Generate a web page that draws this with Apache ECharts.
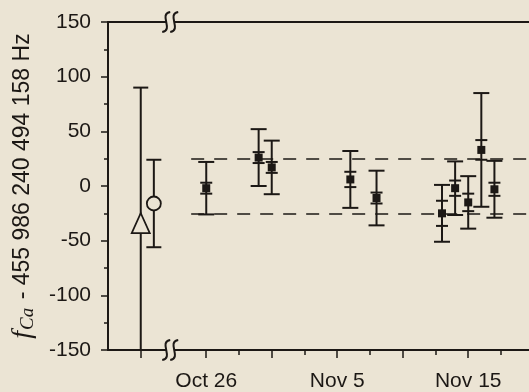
<!DOCTYPE html>
<html><head><meta charset="utf-8">
<script src="https://cdn.jsdelivr.net/npm/echarts@6/dist/echarts.min.js"></script>
<style>html,body{margin:0;padding:0;background:#ebe4d4}#c{width:529px;height:392px}</style>
</head><body><div id="c"></div>
<script>
// ---- data (days relative to Oct 26) ----
const days = [0, 4, 5, 11, 13, 18, 19, 20, 21, 22];
const values = [-2, 26, 17, 6, -11, -25, -2, -15, 33, -3];
const totalErr = [24, 26, 24.5, 26, 25, 26, 24.5, 24, 52, 26];
const statErr = [5, 5, 5, 7, 5, 11.5, 7, 8, 9, 6];
const earlyDays = [-5, -4];
const earlyValues = [-34, -16];
const earlyErr = [124, 40];
const earlySymbols = ['triangle', 'circle'];
const labelDays = [0, 10, 20];
const tickLabels = ['Oct 26', 'Nov 5', 'Nov 15'];
const majorTickDays = [-5, 0, 5, 10, 15, 20];
const minorTickDays = [2.5, 7.5, 12.5, 17.5, 22.5];
const bandLimits = [25, -25];
const breakDays = [-2.75];
const dashStart = -1.15;
const xMin = -7.5, xMax = 24.64;

const ink = '#1c1815';
const bg = '#ebe4d4';

function errRender(capW, innerCapW) {
  return function (params, api) {
    const x = api.value(0), y = api.value(1), e = api.value(2), s = api.value(3);
    const top = api.coord([x, y + e]), bot = api.coord([x, y - e]);
    const st = { stroke: ink, lineWidth: 2 };
    const ch = [
      { type: 'line', shape: { x1: top[0], y1: top[1], x2: bot[0], y2: bot[1] }, style: st },
      { type: 'line', shape: { x1: top[0] - capW / 2, y1: top[1], x2: top[0] + capW / 2, y2: top[1] }, style: st },
      { type: 'line', shape: { x1: bot[0] - capW / 2, y1: bot[1], x2: bot[0] + capW / 2, y2: bot[1] }, style: st }
    ];
    if (s) {
      const it = api.coord([x, y + s]), ib = api.coord([x, y - s]);
      ch.push({ type: 'line', shape: { x1: it[0] - innerCapW / 2, y1: it[1], x2: it[0] + innerCapW / 2, y2: it[1] }, style: st });
      ch.push({ type: 'line', shape: { x1: ib[0] - innerCapW / 2, y1: ib[1], x2: ib[0] + innerCapW / 2, y2: ib[1] }, style: st });
    }
    return { type: 'group', children: ch };
  };
}

function breakRender(params, api) {
  const x = api.value(0);
  const ch = [];
  [150, -150].forEach(function (yv) {
    const c = api.coord([x, yv]);
    ch.push({ type: 'rect', shape: { x: c[0] - 4, y: c[1] - 3, width: 8, height: 6 }, style: { fill: bg } });
    [-4, 4].forEach(function (dx) {
      const cx = c[0] + dx, cy = c[1];
      ch.push({ type: 'bezierCurve', shape: { x1: cx + 4, y1: cy - 10, cpx1: cx - 8, cpy1: cy - 8, cpx2: cx + 8, cpy2: cy + 8, x2: cx - 4, y2: cy + 10 }, style: { stroke: ink, lineWidth: 2, fill: null } });
    });
  });
  return { type: 'group', children: ch };
}

const chart = echarts.init(document.getElementById('c'));
chart.setOption({
  backgroundColor: bg,
  animation: false,
  grid: { left: 108, right: 0, top: 22, bottom: 42, containLabel: false, outerBoundsMode: 'none' },
  xAxis: [
    {
      type: 'value', min: xMin, max: xMax, position: 'bottom',
      axisLine: { show: true, onZero: false, lineStyle: { color: ink, width: 2 } },
      axisTick: { show: true, length: 8, customValues: majorTickDays, lineStyle: { color: ink, width: 1.5 } },
      axisLabel: {
        show: true, customValues: labelDays, margin: 21, color: ink, fontSize: 21, fontFamily: 'Liberation Sans',
        formatter: function (v) { const i = labelDays.indexOf(v); return i >= 0 ? tickLabels[i] : ''; }
      },
      splitLine: { show: false }
    },
    {
      type: 'value', min: xMin, max: xMax, position: 'top',
      axisLine: { show: true, onZero: false, lineStyle: { color: ink, width: 2 } },
      axisTick: { show: false }, axisLabel: { show: false }, splitLine: { show: false }
    },
    {
      type: 'value', min: xMin, max: xMax, position: 'bottom',
      axisLine: { show: false, onZero: false },
      axisTick: { show: true, length: 5, customValues: minorTickDays, lineStyle: { color: ink, width: 1.5 } },
      axisLabel: { show: false }, splitLine: { show: false }
    }
  ],
  yAxis: {
    type: 'value', min: -150, max: 150, interval: 50,
    axisLine: { show: true, onZero: false, lineStyle: { color: ink, width: 2 } },
    axisTick: { show: true, length: 7, lineStyle: { color: ink, width: 1.5 } },
    minorTick: { show: true, splitNumber: 2, length: 4, lineStyle: { color: ink, width: 1.5 } },
    axisLabel: { margin: 17, color: ink, fontSize: 21, fontFamily: 'Liberation Sans' },
    splitLine: { show: false },
    name: '{f|f}{ca|Ca}{t| - 455 986 240 494 158 Hz}',
    nameLocation: 'middle', nameRotate: 90, nameGap: 71,
    nameTextStyle: {
      color: ink,
      rich: {
        f: { fontFamily: 'Liberation Serif', fontStyle: 'italic', fontSize: 28, color: ink },
        ca: { fontFamily: 'Liberation Serif', fontStyle: 'italic', fontSize: 19, color: ink, padding: [10, 2, 0, 1] },
        t: { fontFamily: 'Liberation Sans', fontSize: 23, color: ink }
      }
    }
  },
  series: [
    {
      type: 'custom', name: 'early-err', clip: true, z: 2,
      renderItem: errRender(15, 0),
      data: earlyDays.map(function (d, i) { return [d, earlyValues[i], earlyErr[i], 0]; })
    },
    {
      type: 'custom', name: 'err', clip: true, z: 2,
      renderItem: errRender(16, 12),
      data: days.map(function (d, i) { return [d, values[i], totalErr[i], statErr[i]]; })
    },
    {
      type: 'scatter', name: 'early', z: 4,
      data: earlyDays.map(function (d, i) {
        return { value: [d, earlyValues[i]], symbol: earlySymbols[i], symbolSize: i === 0 ? [18, 20] : 14 };
      }),
      itemStyle: { color: bg, borderColor: ink, borderWidth: 1.8, opacity: 1 }
    },
    {
      type: 'scatter', name: 'meas', z: 4, symbol: 'rect', symbolSize: 8,
      data: days.map(function (d, i) { return [d, values[i]]; }),
      itemStyle: { color: ink, opacity: 1 },
      markLine: {
        silent: true, symbol: 'none', label: { show: false },
        lineStyle: { color: ink, width: 1.5, type: [13, 10] },
        data: bandLimits.map(function (b) { return [{ coord: [dashStart, b] }, { coord: [xMax, b] }]; })
      }
    },
    {
      type: 'custom', name: 'break', clip: false, z: 6,
      renderItem: breakRender,
      data: breakDays.map(function (d) { return [d]; })
    }
  ]
});
</script></body></html>
